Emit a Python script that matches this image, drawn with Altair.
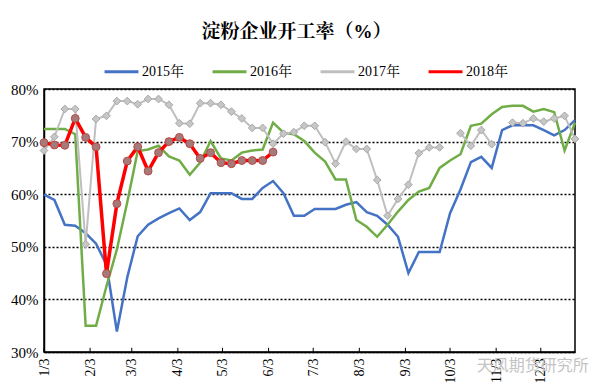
import altair as alt
import pandas as pd

# ---------------- data ----------------
years = ["2015年", "2016年", "2017年", "2018年"]
colors = ["#4472C4", "#70AD47", "#BFBFBF", "#FF0000"]
widths = [2.5, 2.5, 2.0, 3.5]

y2015 = [59.9, 58.9, 54.2, 54.0, 52.6, 50.6, 46.6, 33.9, 44.2, 52.0, 54.2, 55.4, 56.4,
         57.3, 55.1, 56.6, 60.2, 60.2, 60.2, 59.1, 59.1, 61.2, 62.5, 60.2, 55.9, 55.9,
         57.2, 57.2, 57.2, 58.0, 58.5, 56.6, 55.9, 54.2, 51.9, 45.0, 49.0, 49.0, 49.0,
         56.4, 60.9, 66.1, 67.1, 65.0, 72.2, 73.1, 73.1, 73.1, 72.2, 71.2, 72.2, 74.1]
y2016 = [72.4, 72.4, 72.4, 71.4, 35.0, 35.0, 42.5, 49.5, 58.5, 68.2, 68.5, 69.2, 67.2,
         66.4, 63.7, 66.0, 70.1, 66.8, 66.4, 67.9, 68.3, 68.5, 73.6, 71.7, 71.4, 70.1,
         67.9, 66.2, 62.8, 62.8, 55.1, 53.8, 51.9, 54.2, 56.7, 58.9, 60.5, 61.2, 65.0,
         66.4, 67.6, 73.0, 73.4, 75.2, 76.6, 76.8, 76.8, 75.7, 76.2, 75.6, 68.3, 73.6]
y2017 = [68.3, 70.9, 76.2, 76.2, 50.5, 74.3, 74.9, 77.7, 77.7, 77.1, 78.1, 78.1, 77.0,
         73.5, 73.4, 77.3, 77.3, 77.0, 75.7, 74.4, 72.6, 72.6, 69.6, 71.5, 71.8, 73.0,
         73.0, 69.9, 65.8, 70.0, 68.6, 68.6, 62.7, 55.9, 59.1, 61.8, 67.8, 68.9, 68.9,
         None, 71.6, 69.2, 72.2, 69.5, None, 73.6, 73.5, 74.4, 73.8, 74.4, 74.9, 70.5]
y2018 = [69.8, 69.35, 69.3, 74.4, 70.8, 69.0, 44.9, 58.2, 66.3, 69.0, 64.4, 67.9, 70.0,
         70.8, 69.6, 66.8, 67.9, 66.0, 65.8, 66.4, 66.4, 66.4, 68.0]

tick_months = list(range(1, 13))
y_ticks = [30, 40, 50, 60, 70, 80]
title_text = "淀粉企业开工率（%）"
watermark = "天风期货研究所"

# ---------------- table ----------------
start = pd.Timestamp("2018-01-03")
week_dates = [(start + pd.Timedelta(days=7 * i)).strftime("%Y-%m-%d") for i in range(52)]
rows = []
for name, series in zip(years, [y2015, y2016, y2017, y2018]):
    for i, v in enumerate(series):
        rows.append({"date": week_dates[i], "value": v, "year": name})
df = pd.DataFrame(rows)

ticks_df = pd.DataFrame({
    "date": [f"2018-{m:02d}-03" for m in tick_months],
    "value": [30] * len(tick_months),
    "value2": [30.8] * len(tick_months),
})

SERIF = "Liberation Serif, Noto Serif CJK SC, Noto Sans CJK SC"

x_enc = alt.X(
    "date:T",
    title=None,
    scale=alt.Scale(type="utc",
                    domain=[alt.DateTime(year=2018, month=1, date=3, utc=True),
                            alt.DateTime(year=2018, month=12, date=26, utc=True)]),
    axis=alt.Axis(
        values=[alt.DateTime(year=2018, month=m, date=3, utc=True) for m in tick_months],
        labelExpr="utcFormat(datum.value, '%-m/%-d')",
        labelAngle=270, labelFont=SERIF, labelFontSize=14, labelColor="black",
        labelPadding=6, ticks=False, grid=False,
        domainColor="black", domainWidth=1.5,
    ),
)
y_enc = alt.Y(
    "value:Q",
    title=None,
    scale=alt.Scale(domain=[30, 80]),
    axis=alt.Axis(
        values=y_ticks, labelExpr="datum.value + '%'",
        labelFont=SERIF, labelFontSize=15, labelColor="black", labelPadding=6,
        ticks=False, grid=True, gridColor="black", gridDash=[2, 2], gridWidth=1.3,
        domainColor="black", domainWidth=1.5,
    ),
)
color_enc = alt.Color(
    "year:N",
    scale=alt.Scale(domain=years, range=colors),
    legend=alt.Legend(
        orient="none", legendX=59, legendY=-36, direction="horizontal", columns=4,
        title=None, symbolType="stroke", symbolSize=1150, symbolStrokeWidth=3,
        labelFont=SERIF, labelFontSize=14, labelColor="black", labelOffset=2,
        columnPadding=22,
    ),
)

base = alt.Chart(df)

def line_layer(k):
    return base.transform_filter(alt.datum.year == years[k]).mark_line(
        strokeWidth=widths[k], invalid="break-paths-show-domains"
    ).encode(x=x_enc, y=y_enc, color=color_enc)

l2015 = line_layer(0)
l2016 = line_layer(1)
l2017 = line_layer(2)
p2017 = base.transform_filter(alt.datum.year == years[2]).mark_point(
    shape="diamond", filled=True, size=60, fill="#C6C6C6", stroke="#A8A8A8",
    strokeWidth=1, opacity=1
).encode(x=x_enc, y=y_enc)
l2018 = line_layer(3)
p2018 = base.transform_filter(alt.datum.year == years[3]).mark_point(
    shape="circle", filled=True, size=62, fill="#A57A78", stroke="#B84848",
    strokeWidth=1, opacity=1
).encode(x=x_enc, y=y_enc)

tick_marks = alt.Chart(ticks_df).mark_rule(color="black", strokeWidth=1).encode(
    x=x_enc, y=y_enc, y2="value2"
)

wm = alt.Chart(pd.DataFrame({"t": [watermark]})).mark_text(
    align="left", baseline="middle", font="Noto Sans CJK SC", fontSize=16,
    color="#c4c4c4"
).encode(
    x=alt.datum(alt.DateTime(year=2018, month=10, date=21, utc=True)),
    y=alt.datum(27.4),
    text="t:N",
)

chart = alt.layer(
    tick_marks, l2015, l2016, l2017, p2017, l2018, p2018, wm
).properties(
    width=531, height=263,
    title=alt.TitleParams(
        title_text, font=SERIF, fontSize=19, fontWeight="bold", color="black",
        anchor="middle", offset=11, dx=-13,
    ),
    autosize=alt.AutoSizeParams(type="none"),
    padding={"left": 36, "top": 81, "right": 17, "bottom": 30},
    background="white",
).configure_view(stroke="black", strokeWidth=1.5)

chart.save("out.html", embed_options={"renderer": "svg", "actions": False})
